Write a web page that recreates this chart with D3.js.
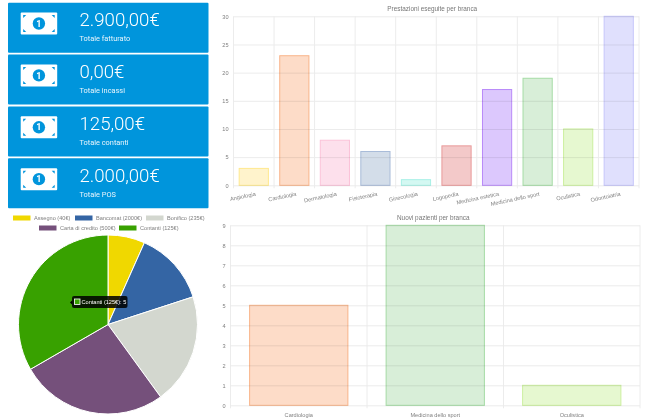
<!DOCTYPE html>
<html><head><meta charset="utf-8">
<script src="https://cdnjs.cloudflare.com/ajax/libs/d3/7.8.5/d3.min.js"></script>
<style>html,body{margin:0;padding:0;background:#fff}svg{display:block;filter:blur(0.3px)}text{font-family:Roboto,sans-serif}</style>
</head><body><svg id="c" width="650" height="420"></svg>
<script>
const cardValues=["2.900,00€","0,00€","125,00€","2.000,00€"];
const cardLabels=["Totale fatturato","Totale incassi","Totale contanti","Totale POS"];
const payLabels=["Assegno (40€)","Bancomat (2000€)","Bonifico (235€)","Carta di credito (500€)","Contanti (125€)"];
const payValues=[1,2,3,4,5];
const payColors=["#f0d800","#3465a4","#d3d7cf","#75507b","#38a100"];
const branche=["Angiologia","Cardiologia","Dermatologia","Fisioterapia","Ginecologia","Logopedia","Medicina estetica","Medicina dello sport","Oculistica","Odontoiatria"];
const prestazioni=[3,23,8,6,1,7,17,19,10,30];
const brancheFill=["#fff3cc","#fddcc8","#fde0ec","#d3dde9","#d4f8f2","#f3c9c9","#dcc8fd","#d8eed8","#e6f8d0","#e0e0fd"];
const brancheLine=["#ffe98f","#f9b48a","#fbc3d9","#a9bcd9","#a8f0e6","#e99a9a","#b98af9","#a6dca6","#cdf0a0","#c6c6fb"];
const nuoviBranche=["Cardiologia","Medicina dello sport","Oculistica"];
const nuoviPazienti=[5,9,1];
const nuoviFill=["#fddcc8","#d8eed8","#e6f8d0"];
const nuoviLine=["#f9b48a","#a6dca6","#cdf0a0"];

const svg=d3.select("#c");
const cardY=d3.scaleBand().domain(d3.range(4)).range([2.7,208.3]).paddingInner(0.037).paddingOuter(0);
cardValues.forEach((v,i)=>{
  const g=svg.append("g").attr("transform",`translate(8,${cardY(i)})`);
  g.append("rect").attr("width",200.5).attr("height",cardY.bandwidth()).attr("rx",1).attr("fill","#0095dc");
  const ic=g.append("g").attr("transform","translate(12.7,9.8)");
  ic.append("rect").attr("width",36.5).attr("height",22).attr("rx",1).attr("fill","#fff");
  ic.append("circle").attr("cx",18.2).attr("cy",11).attr("r",6.2).attr("fill","#0095dc");
  ic.append("text").attr("x",18.2).attr("y",14.2).attr("text-anchor","middle").attr("font-size",9).attr("font-weight",700).attr("fill","#fff").text("1");
  [[2.5,2.5,1,1],[34,2.5,-1,1],[2.5,19.5,1,-1],[34,19.5,-1,-1]].forEach(c=>{
    ic.append("path").attr("d",`M${c[0]},${c[1]}h${c[2]*3}l${-c[2]*3},${c[3]*3}z`).attr("fill","#0095dc");
  });
  g.append("text").attr("x",71.5).attr("y",23.4).attr("font-size",18.6).attr("font-weight",300).attr("fill","#fff").text(v);
  g.append("text").attr("x",71.5).attr("y",38.3).attr("font-size",7.4).attr("font-weight",400).attr("fill","#e8f5fc").text(cardLabels[i]);
});

// legend
const legendPos=[[13,215.5],[75,215.5],[146,215.5],[39,225.5],[119,225.5]];
payLabels.forEach((l,i)=>{
  const g=svg.append("g").attr("transform",`translate(${legendPos[i][0]},${legendPos[i][1]})`);
  g.append("rect").attr("width",17.5).attr("height",5).attr("fill",payColors[i]);
  g.append("text").attr("x",21).attr("y",4.8).attr("font-size",5.6).style("font-family","Liberation Sans").attr("fill","#808080").text(l);
});

// pie
const pieG=svg.append("g").attr("transform","translate(108,324.5)");
pieG.selectAll("path").data(d3.pie().sort(null)(payValues)).join("path")
  .attr("d",d3.arc().innerRadius(0).outerRadius(89.5))
  .attr("fill",(d,i)=>payColors[i]).attr("stroke","#fff").attr("stroke-width",1);
const tt=svg.append("g").attr("transform","translate(72,296)");
tt.append("path").attr("d","M0,4.5L-2,6.5L0,8.5z").attr("fill","#000");
tt.append("rect").attr("width",55.5).attr("height",12).attr("rx",2).attr("fill","#000").attr("fill-opacity",0.85);
tt.append("rect").attr("x",2.5).attr("y",3).attr("width",5.5).attr("height",5.5).attr("fill",payColors[4]).attr("stroke","#fff").attr("stroke-width",0.8);
tt.append("text").attr("x",9.5).attr("y",8.3).attr("font-size",5.6).style("font-family","Liberation Sans").attr("fill","#fff").text(payLabels[4]+": "+payValues[4]);

function barChart(o){
  const x=d3.scaleBand().domain(o.cats).range([o.x0,o.x1]);
  const y=d3.scaleLinear().domain([0,o.max]).range([o.y0,o.y1]);
  const g=svg.append("g");
  const grid="#ececec";
  g.append("g").selectAll("line").data(d3.range(o.cats.length+1)).join("line")
    .attr("x1",i=>o.x0+i*x.step()).attr("x2",i=>o.x0+i*x.step())
    .attr("y1",o.y1).attr("y2",o.y0+3).attr("stroke",grid).attr("stroke-width",1);
  const ya=g.append("g").attr("transform",`translate(${o.x0},0)`)
    .call(d3.axisLeft(y).tickValues(o.ticks).tickSize(-(o.x1-o.x0)).tickPadding(o.pad).tickFormat(d3.format("d")));
  ya.select(".domain").remove();
  ya.selectAll("line").attr("stroke",grid);
  ya.selectAll("text").attr("fill","#808080").attr("font-size",5.6).style("font-family","Liberation Sans");
  const bw=x.bandwidth()*0.72;
  g.append("g").style("mix-blend-mode","multiply").selectAll("rect").data(o.vals).join("rect")
    .attr("x",(d,i)=>x(o.cats[i])+(x.bandwidth()-bw)/2).attr("width",bw)
    .attr("y",d=>y(d)).attr("height",d=>y(0)-y(d))
    .attr("fill",(d,i)=>o.fill[i]).attr("stroke",(d,i)=>o.line[i]).attr("stroke-width",1);
  const xa=g.append("g").attr("transform",`translate(0,${o.y0})`)
    .call(d3.axisBottom(x).tickSize(0).tickPadding(o.xpad));
  xa.select(".domain").remove();
  const t=xa.selectAll("text").attr("fill","#808080").attr("font-size",5.6).style("font-family","Liberation Sans");
  if(o.rot){t.attr("text-anchor","end").attr("dy",0).attr("y",o.xpad).attr("x",0).attr("transform",`rotate(${o.rot})`);}
  g.append("text").attr("x",(o.x0+o.x1)/2+o.tdx).attr("y",o.ty).attr("text-anchor","middle").attr("font-size",6.4)
    .style("font-family","Liberation Sans").attr("fill","#777").text(o.title);
}
barChart({cats:branche,vals:prestazioni,fill:brancheFill,line:brancheLine,max:30,ticks:[0,5,10,15,20,25,30],
  x0:233.5,x1:639,y0:185.3,y1:16.3,pad:5,xpad:10.5,rot:-12,title:"Prestazioni eseguite per branca",ty:10.5,tdx:-4});
barChart({cats:nuoviBranche,vals:nuoviPazienti,fill:nuoviFill,line:nuoviLine,max:9,ticks:d3.range(0,10),
  x0:230.5,x1:640,y0:405.3,y1:225.3,pad:5,xpad:7.3,rot:0,title:"Nuovi pazienti per branca",ty:219.5,tdx:-2});
</script></body></html>
